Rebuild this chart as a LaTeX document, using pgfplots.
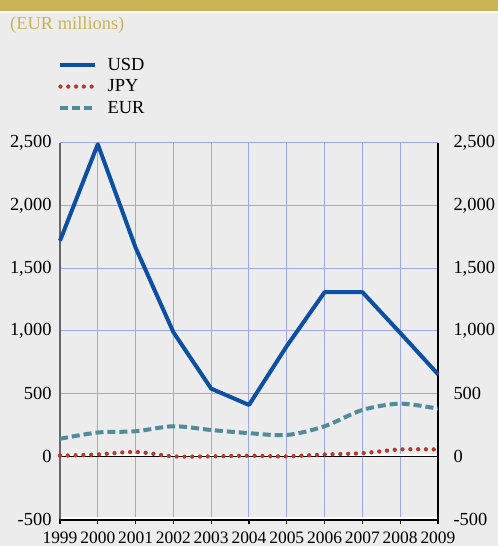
\documentclass[border=0pt]{standalone}
\usepackage{fontspec}
\setmainfont{Liberation Serif}
\usepackage{pgfplots}
\pgfplotsset{compat=1.18}
\definecolor{bg}{HTML}{ECECEC}
\definecolor{gold}{HTML}{C9B555}
\definecolor{usd}{HTML}{0D4FA0}
\definecolor{jpy}{HTML}{B23A2E}
\definecolor{eur}{HTML}{508B9B}
\definecolor{gridc}{HTML}{9FA8E6}
\begin{document}
\begin{tikzpicture}
\path[use as bounding box, fill=bg] (0bp,0bp) rectangle (498bp,546bp);
\fill[gold] (0bp,535bp) rectangle (498bp,546bp);
\fill[white] (0bp,533bp) rectangle (498bp,535bp);
\node[anchor=base west, inner sep=0pt, text=gold, font=\fontsize{18.5}{20}\selectfont] at (10bp,516bp) {(EUR millions)};
\begin{axis}[
  at={(60bp,27bp)}, anchor=south west,
  scale only axis, width=378bp, height=376bp,
  xmin=1999, xmax=2009, ymin=-500, ymax=2500,
  xtick={1999,...,2009}, ytick={-500,0,500,...,2500},
  axis line style={draw=none},
  grid=major, major grid style={color=gridc, line width=1bp},
  xtick pos=bottom, tick align=outside, major tick length=5bp,
  xtick style={black, line width=1.2bp},
  ytick style={draw=none},
  x tick label style={/pgf/number format/1000 sep={}, yshift=-4bp, font=\fontsize{17.5}{19}\selectfont},
  y tick label style={/pgf/number format/1000 sep={,}, xshift=0bp, font=\fontsize{18.5}{20}\selectfont},
  /pgf/number format/assume math mode=true,
  legend style={at={(-0.005,1.229)}, anchor=north west, draw=none, fill=none,
    font=\fontsize{18.5}{20}\selectfont, row sep=5.5bp, column sep=10bp, inner sep=0pt,
    nodes={inner sep=0pt, text height=13bp, text depth=3bp},
    cells={anchor=west}},
  legend cell align=left,
  legend image code/.code={\draw[#1] (0bp,0bp) -- (35bp,0bp);},
  clip=false,
]
\draw[white, line width=2bp] ([yshift=1.5bp]axis cs:1999,0) -- ([yshift=1.5bp]axis cs:2009,0);
\draw[black, line width=1bp] (axis cs:1999,0) -- (axis cs:2009,0);
\draw[white, line width=2bp] ([yshift=1bp]axis cs:1999,-500) -- ([yshift=1bp]axis cs:2009,-500);
\draw[black, line width=1.2bp] ([yshift=-1bp]axis cs:1999,-500) -- ([yshift=-1bp]axis cs:2009,-500);
\draw[black!60, line width=1.2bp] (axis cs:1999,-500) -- (axis cs:1999,2500);
\draw[black, line width=1.2bp] (axis cs:2009,-500) -- (axis cs:2009,2500);
\addplot[usd, line width=4bp, line join=round] coordinates {
(1999,1720) (2000,2490) (2001,1665) (2002,990) (2003,540) (2004,410)
(2005,880) (2006,1310) (2007,1310) (2008,985) (2009,655)};
\addlegendentry{USD}
\addplot[jpy, line width=4.3bp, line cap=round, dash pattern=on 0bp off 7.8bp, smooth] coordinates {
(1999,5) (2000,15) (2001,35) (2002,0) (2003,0) (2004,5)
(2005,0) (2006,15) (2007,25) (2008,55) (2009,55)};
\addlegendentry{JPY}
\addplot[eur, line width=4bp, dash pattern=on 8bp off 4bp, smooth] coordinates {
(1999,140) (2000,190) (2001,200) (2002,240) (2003,210) (2004,185)
(2005,170) (2006,240) (2007,370) (2008,420) (2009,380)};
\addlegendentry{EUR}
\end{axis}
\begin{axis}[
  at={(60bp,27bp)}, anchor=south west,
  scale only axis, width=378bp, height=376bp,
  xmin=1999, xmax=2009, ymin=-500, ymax=2500,
  xtick=\empty, ytick={-500,0,500,...,2500},
  axis line style={draw=none},
  yticklabel pos=right, ytick style={draw=none},
  y tick label style={/pgf/number format/1000 sep={,}, xshift=12bp, font=\fontsize{18.5}{20}\selectfont},
  /pgf/number format/assume math mode=true,
]
\end{axis}
\end{tikzpicture}
\end{document}
